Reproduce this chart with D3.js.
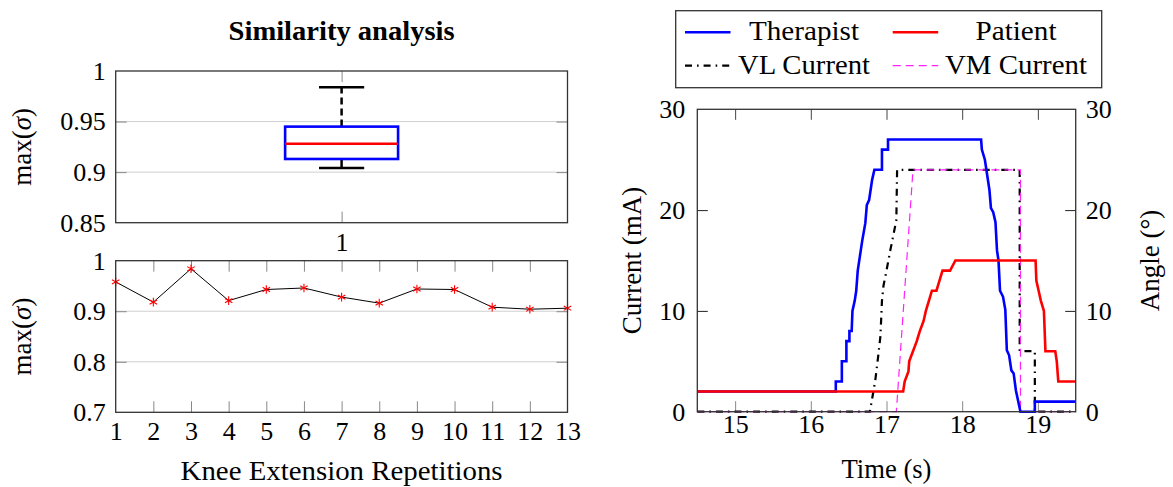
<!DOCTYPE html>
<html>
<head>
<meta charset="utf-8">
<script src="https://cdn.jsdelivr.net/npm/d3@7"></script>
<style>
  body { margin: 0; background: #fff; }
  svg text { font-family: "Liberation Serif", "Times New Roman", serif; font-size: 26px; fill: #000; }
  svg text.word { font-size: 27px; }
</style>
</head>
<body>
<div id="chart"></div>
<script>
// ---- data ----
const repetitions = [1, 2, 3, 4, 5, 6, 7, 8, 9, 10, 11, 12, 13];
const maxSigma = [0.958, 0.918, 0.984, 0.921, 0.943, 0.946, 0.928, 0.916, 0.944, 0.943, 0.908, 0.904, 0.906];

// box plot summary: [lower whisker, q1, median, q3, upper whisker]
const boxSummary = [0.904, 0.913, 0.928, 0.945, 0.984];

const boxYTicks = [0.85, 0.9, 0.95, 1];
const boxGrid = [0.9, 0.95];
const repYTicks = [0.7, 0.8, 0.9, 1];
const repGrid = [0.8, 0.9];

// time (s), value
const therapist = [[14.5, 2], [16.33, 2], [16.33, 3], [16.41, 3], [16.41, 5], [16.47, 5], [16.47, 7], [16.51, 7],
  [16.51, 8], [16.54, 8], [16.55, 10], [16.58, 11], [16.60, 12], [16.62, 14], [16.66, 16], [16.68, 17],
  [16.72, 18.7], [16.74, 20.5], [16.77, 21], [16.79, 22], [16.81, 23], [16.84, 24], [16.94, 24], [16.94, 26],
  [17.02, 26], [17.02, 27], [18.25, 27], [18.26, 26], [18.30, 25], [18.36, 22], [18.38, 20.2], [18.41, 19.8],
  [18.44, 18.8], [18.46, 16], [18.48, 15], [18.50, 12], [18.54, 11.4], [18.57, 10.1], [18.59, 6.1], [18.62, 5.6],
  [18.65, 4.1], [18.68, 3.8], [18.71, 2.1], [18.77, 0], [18.96, 0], [18.96, 1], [19.5, 1]];
const patient = [[14.5, 2], [17.22, 2], [17.24, 3], [17.29, 4], [17.30, 5], [17.35, 6], [17.40, 7], [17.44, 8],
  [17.49, 9], [17.52, 10], [17.56, 11], [17.60, 12], [17.66, 12], [17.70, 13], [17.74, 14], [17.84, 14],
  [17.91, 15], [18.97, 15], [18.98, 13], [19.01, 12], [19.04, 11], [19.08, 10], [19.10, 6], [19.23, 6],
  [19.25, 5], [19.27, 3], [19.5, 3]];
const vlCurrent = [[14.5, 0], [16.78, 0], [16.85, 3], [16.89, 5.5], [16.92, 7.5], [16.94, 11], [16.96, 12.5],
  [17.00, 14], [17.05, 16], [17.09, 17.5], [17.13, 19], [17.14, 24], [18.76, 24], [18.76, 6], [18.96, 6],
  [18.96, 0], [19.5, 0]];
const vmCurrent = [[14.5, 0], [17.13, 0], [17.35, 24], [18.77, 24], [18.77, 0], [19.5, 0]];

const timeTicks = [15, 16, 17, 18, 19];
const currentTicks = [0, 10, 20, 30];

const legendNames = ['Therapist', 'Patient', 'VL Current', 'VM Current'];

// ---- drawing ----
const width = 1173, height = 487;
const svg = d3.select('#chart').append('svg')
  .attr('width', width).attr('height', height)
  .style('background', '#fff');

const frameColor = '#333';
const tickColor = '#888';
const gridColor = '#cfcfcf';

// shared x extent of the two left panels
const leftX0 = 115.7, leftX1 = 567.5;

function frame(x0, y0, x1, y1) {
  svg.append('rect')
    .attr('x', x0).attr('y', y0)
    .attr('width', x1 - x0).attr('height', y1 - y0)
    .attr('fill', 'none').attr('stroke', frameColor).attr('stroke-width', 1.3);
}

function styleAxis(g, color) {
  g.select('.domain').remove();
  g.selectAll('.tick line').attr('stroke', color).attr('stroke-width', 1);
  g.selectAll('.tick text').attr('font-family', null).attr('font-size', null).attr('fill', '#000');
}

// the original uses a wider (Palatino-like) face; stretch a few labels to its widths
function fitWidth(sel, w) {
  sel.attr('textLength', w).attr('lengthAdjust', 'spacingAndGlyphs');
}

// --- box plot panel ---
const boxTop = 71, boxBottom = 222.7;
const xBox = d3.scaleLinear().domain([0, 2]).range([leftX0, leftX1]);
const yBox = d3.scaleLinear().domain([0.85, 1]).range([boxBottom, boxTop]);

svg.append('g').selectAll('line').data(boxGrid).join('line')
  .attr('x1', leftX0).attr('x2', leftX1)
  .attr('y1', d => yBox(d)).attr('y2', d => yBox(d))
  .attr('stroke', gridColor).attr('stroke-width', 1);

svg.append('g').attr('transform', `translate(${leftX0},0)`)
  .call(d3.axisLeft(yBox).tickValues(boxYTicks).tickSize(-11).tickPadding(10).tickFormat(d => String(d)))
  .call(g => styleAxis(g, tickColor))
  .call(g => g.selectAll('.tick').filter(d => d === 0.85 || d === 1).select('line').remove());
svg.append('g').attr('transform', `translate(${leftX1},0)`)
  .call(d3.axisRight(yBox).tickValues(boxGrid).tickSize(-11).tickFormat(''))
  .call(g => styleAxis(g, tickColor));
svg.append('g').attr('transform', `translate(0,${boxBottom})`)
  .call(d3.axisBottom(xBox).tickValues([1]).tickSize(-11).tickFormat(d => String(d)))
  .call(g => styleAxis(g, tickColor))
  .call(g => g.selectAll('.tick text').attr('dy', '0.71em').attr('y', 10));
svg.append('g').attr('transform', `translate(0,${boxTop})`)
  .call(d3.axisTop(xBox).tickValues([1]).tickSize(-11).tickFormat(''))
  .call(g => styleAxis(g, tickColor));

const [lw, q1, med, q3, uw] = boxSummary;
const boxHalf = 0.25, capHalf = 0.1;
const bx = svg.append('g');
bx.append('line')
  .attr('x1', xBox(1)).attr('x2', xBox(1)).attr('y1', yBox(q3)).attr('y2', yBox(uw))
  .attr('stroke', '#000').attr('stroke-width', 2.5).attr('stroke-dasharray', '7,4');
bx.append('line')
  .attr('x1', xBox(1)).attr('x2', xBox(1)).attr('y1', yBox(q1)).attr('y2', yBox(lw))
  .attr('stroke', '#000').attr('stroke-width', 2.5);
[lw, uw].forEach(v => {
  bx.append('line')
    .attr('x1', xBox(1 - capHalf)).attr('x2', xBox(1 + capHalf))
    .attr('y1', yBox(v)).attr('y2', yBox(v))
    .attr('stroke', '#000').attr('stroke-width', 2.5);
});
bx.append('rect')
  .attr('x', xBox(1 - boxHalf)).attr('y', yBox(q3))
  .attr('width', xBox(1 + boxHalf) - xBox(1 - boxHalf)).attr('height', yBox(q1) - yBox(q3))
  .attr('fill', '#fff').attr('stroke', '#0000ff').attr('stroke-width', 2.6);
bx.append('line')
  .attr('x1', xBox(1 - boxHalf)).attr('x2', xBox(1 + boxHalf))
  .attr('y1', yBox(med)).attr('y2', yBox(med))
  .attr('stroke', '#ff0000').attr('stroke-width', 2.5);

frame(leftX0, boxTop, leftX1, boxBottom);

svg.append('text')
  .attr('x', (leftX0 + leftX1) / 2).attr('y', 40)
  .attr('text-anchor', 'middle')
  .style('font-weight', 'bold').style('font-size', '28px')
  .text('Similarity analysis')
  .call(fitWidth, 226);

// --- repetitions panel ---
const repTop = 260.7, repBottom = 412.3;
const xRep = d3.scaleLinear().domain([1, 13]).range([leftX0, leftX1]);
const yRep = d3.scaleLinear().domain([0.7, 1]).range([repBottom, repTop]);

svg.append('g').selectAll('line').data(repGrid).join('line')
  .attr('x1', leftX0).attr('x2', leftX1)
  .attr('y1', d => yRep(d)).attr('y2', d => yRep(d))
  .attr('stroke', gridColor).attr('stroke-width', 1);

svg.append('g').attr('transform', `translate(${leftX0},0)`)
  .call(d3.axisLeft(yRep).tickValues(repYTicks).tickSize(-11).tickPadding(10).tickFormat(d => String(d)))
  .call(g => styleAxis(g, tickColor))
  .call(g => g.selectAll('.tick').filter(d => d === 0.7 || d === 1).select('line').remove());
svg.append('g').attr('transform', `translate(${leftX1},0)`)
  .call(d3.axisRight(yRep).tickValues(repGrid).tickSize(-11).tickFormat(''))
  .call(g => styleAxis(g, tickColor));
svg.append('g').attr('transform', `translate(0,${repBottom})`)
  .call(d3.axisBottom(xRep).tickValues(repetitions).tickSize(-11).tickFormat(d => String(d)))
  .call(g => styleAxis(g, tickColor))
  .call(g => g.selectAll('.tick text').attr('dy', '0.71em').attr('y', 9))
  .call(g => g.selectAll('.tick').filter(d => d === 1 || d === 13).select('line').remove());
svg.append('g').attr('transform', `translate(0,${repTop})`)
  .call(d3.axisTop(xRep).tickValues(repetitions).tickSize(-11).tickFormat(''))
  .call(g => styleAxis(g, tickColor))
  .call(g => g.selectAll('.tick').filter(d => d === 1 || d === 13).remove());

const repLine = d3.line().x((d, i) => xRep(repetitions[i])).y(d => yRep(d));
svg.append('path').datum(maxSigma)
  .attr('d', repLine)
  .attr('fill', 'none').attr('stroke', '#000').attr('stroke-width', 1);

const asterisk = d3.symbolAsterisk || {
  draw(ctx, size) {
    const r = Math.sqrt(size) * 0.59436, t = r / 2, u = t * Math.sqrt(3);
    ctx.moveTo(0, r); ctx.lineTo(0, -r);
    ctx.moveTo(-u, -t); ctx.lineTo(u, t);
    ctx.moveTo(-u, t); ctx.lineTo(u, -t);
  }
};
svg.append('g').selectAll('path').data(maxSigma).join('path')
  .attr('transform', (d, i) => `translate(${xRep(repetitions[i])},${yRep(d)})`)
  .attr('d', d3.symbol(asterisk, 52))
  .attr('fill', 'none').attr('stroke', '#ff0000').attr('stroke-width', 1.1);

frame(leftX0, repTop, leftX1, repBottom);

svg.append('text').attr('class', 'word')
  .attr('x', (leftX0 + leftX1) / 2).attr('y', 480)
  .attr('text-anchor', 'middle')
  .text('Knee Extension Repetitions')
  .call(fitWidth, 322);

// y labels max(sigma)
[(boxTop + boxBottom) / 2, (repTop + repBottom) / 2].forEach(cy => {
  const t = svg.append('text').attr('class', 'word')
    .attr('transform', `translate(31,${cy}) rotate(-90)`)
    .attr('text-anchor', 'middle');
  t.append('tspan').text('max(');
  t.append('tspan').style('font-style', 'italic').text('σ');
  t.append('tspan').text(')');
});

// --- time panel ---
const rX0 = 697.3, rX1 = 1075.7, rTop = 109.3, rBottom = 411.7;
const xTime = d3.scaleLinear().domain([14.5, 19.5]).range([rX0, rX1]);
const yCur = d3.scaleLinear().domain([0, 30]).range([rBottom, rTop]);

svg.append('g').attr('transform', `translate(0,${rBottom})`)
  .call(d3.axisBottom(xTime).tickValues(timeTicks).tickSize(-10.5).tickFormat(d => String(d)))
  .call(g => styleAxis(g, tickColor))
  .call(g => g.selectAll('.tick text').attr('dy', '0.71em').attr('y', 3));
svg.append('g').attr('transform', `translate(0,${rTop})`)
  .call(d3.axisTop(xTime).tickValues(timeTicks).tickSize(-10.5).tickFormat(''))
  .call(g => styleAxis(g, '#444'));
svg.append('g').attr('transform', `translate(${rX0},0)`)
  .call(d3.axisLeft(yCur).tickValues(currentTicks).tickSize(-10.5).tickPadding(12).tickFormat(d => String(d)))
  .call(g => styleAxis(g, '#222'))
  .call(g => g.selectAll('.tick').filter(d => d === 0 || d === 30).select('line').remove());
svg.append('g').attr('transform', `translate(${rX1},0)`)
  .call(d3.axisRight(yCur).tickValues(currentTicks).tickSize(-10.5).tickPadding(10).tickFormat(d => String(d)))
  .call(g => styleAxis(g, '#222'))
  .call(g => g.selectAll('.tick').filter(d => d === 0 || d === 30).select('line').remove());

const timeLine = d3.line().x(d => xTime(d[0])).y(d => yCur(d[1]));
const plot = svg.append('g');
plot.append('path').datum(vlCurrent).attr('d', timeLine)
  .attr('fill', 'none').attr('stroke', '#000').attr('stroke-width', 2.2)
  .attr('stroke-dasharray', '7,5,1.6,5');
plot.append('path').datum(vmCurrent).attr('d', timeLine)
  .attr('fill', 'none').attr('stroke', '#ff22ff').attr('stroke-width', 1.2)
  .attr('stroke-dasharray', '8,5');
plot.append('path').datum(therapist).attr('d', timeLine)
  .attr('fill', 'none').attr('stroke', '#0000ff').attr('stroke-width', 2.6);
plot.append('path').datum(patient).attr('d', timeLine)
  .attr('fill', 'none').attr('stroke', '#ff0000').attr('stroke-width', 2.6);

frame(rX0, rTop, rX1, rBottom);

svg.append('text').attr('class', 'word')
  .attr('x', (rX0 + rX1) / 2).attr('y', 478)
  .attr('text-anchor', 'middle')
  .text('Time (s)')
  .call(fitWidth, 90);
svg.append('text').attr('class', 'word')
  .attr('transform', `translate(641,${(rTop + rBottom) / 2}) rotate(-90)`)
  .attr('text-anchor', 'middle')
  .text('Current (mA)');
svg.append('text').attr('class', 'word')
  .attr('transform', `translate(1159,${(rTop + rBottom) / 2}) rotate(-90)`)
  .attr('text-anchor', 'middle')
  .text('Angle (°)');

// --- legend ---
const legend = svg.append('g');
legend.append('rect')
  .attr('x', 675.7).attr('y', 10.7).attr('width', 426).attr('height', 77)
  .attr('fill', '#fff').attr('stroke', frameColor).attr('stroke-width', 1.3);
const legendStyles = [
  { color: '#0000ff', w: 2.6, dash: null },
  { color: '#ff0000', w: 2.6, dash: null },
  { color: '#000', w: 2.2, dash: '7,5,1.6,5' },
  { color: '#ff22ff', w: 1.2, dash: '8,5' }
];
const legendWidths = [110, 81, 132, 142];
const colLineX = [685, 892.7], colTextX = [804, 1016], rowY = [32.3, 65.7];
legendNames.forEach((name, i) => {
  const col = i % 2, row = Math.floor(i / 2);
  const s = legendStyles[i];
  legend.append('line')
    .attr('x1', colLineX[col]).attr('x2', colLineX[col] + 45.5)
    .attr('y1', rowY[row]).attr('y2', rowY[row])
    .attr('stroke', s.color).attr('stroke-width', s.w)
    .attr('stroke-dasharray', s.dash);
  legend.append('text').attr('class', 'word')
    .attr('x', colTextX[col]).attr('y', rowY[row])
    .attr('dy', '0.3em')
    .attr('text-anchor', 'middle')
    .text(name)
    .call(fitWidth, legendWidths[i]);
});
</script>
</body>
</html>
